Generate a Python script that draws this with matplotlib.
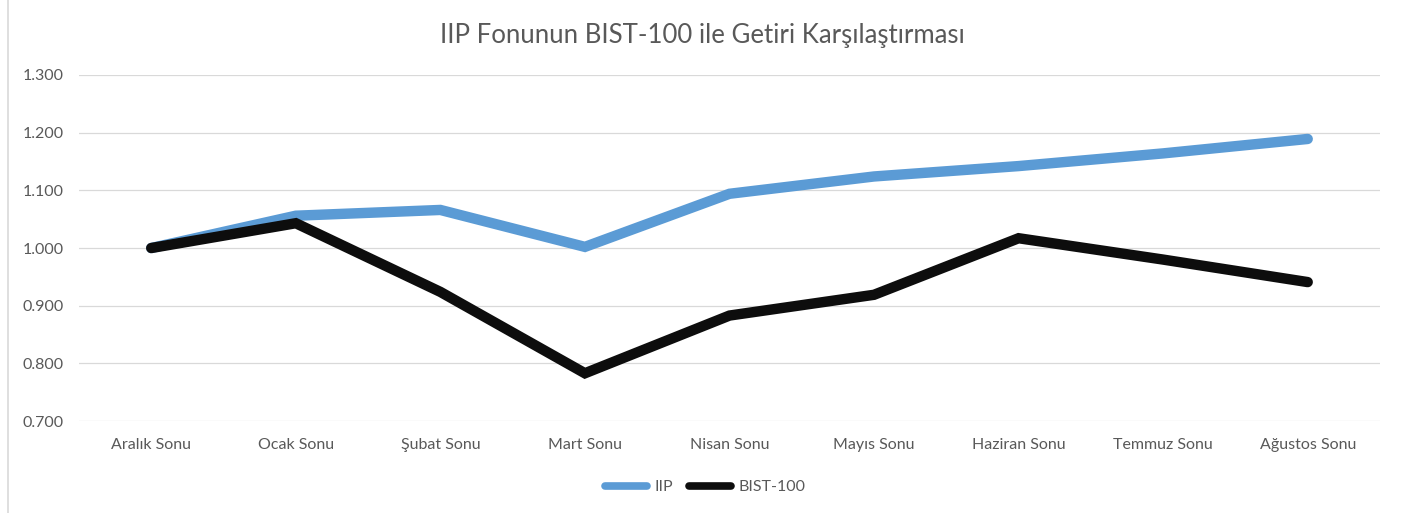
import matplotlib
matplotlib.use("Agg")
import matplotlib.pyplot as plt
from matplotlib.patches import Rectangle

# ── Data ───────────────────────────────────────────────────────────────────
MONTHS = ["Aralık Sonu", "Ocak Sonu", "Şubat Sonu", "Mart Sonu", "Nisan Sonu",
          "Mayıs Sonu", "Haziran Sonu", "Temmuz Sonu", "Ağustos Sonu"]
IIP    = [1.000, 1.056, 1.066, 1.002, 1.094, 1.124, 1.142, 1.164, 1.189]
BIST   = [1.000, 1.043, 0.924, 0.783, 0.883, 0.919, 1.017, 0.980, 0.941]
YTICKS = [0.7, 0.8, 0.9, 1.0, 1.1, 1.2, 1.3]

TITLE = "IIP Fonunun BIST-100 ile Getiri Karşılaştırması"
TXT   = "#595959"

plt.rcParams["font.family"] = ["Lato", "DejaVu Sans"]

fig = plt.figure(figsize=(14.05, 5.13), dpi=100)
ax = fig.add_axes([0.0562, 0.179, 0.926, 0.675])

x = range(len(MONTHS))
ax.plot(x, IIP, color="#5B9BD5", lw=7.5, solid_capstyle="round",
        solid_joinstyle="miter", label="IIP")
ax.plot(x, BIST, color="#0D0D0D", lw=7.5, solid_capstyle="round",
        solid_joinstyle="miter", label="BIST-100")

ax.set_xlim(-0.5, len(MONTHS) - 0.5)
ax.set_ylim(0.7, 1.3)
ax.set_yticks(YTICKS)
ax.set_yticklabels([f"{v:.3f}" for v in YTICKS])
ax.set_xticks(list(x))
ax.set_xticklabels(MONTHS)
ax.tick_params(length=0, colors=TXT, labelsize=11.5)
ax.tick_params(axis="x", pad=12)
ax.tick_params(axis="y", pad=11)
ax.grid(axis="y", color="#D9D9D9", lw=0.9)
ax.set_axisbelow(True)
for s in ax.spines.values():
    s.set_visible(False)

fig.text(0.5, 0.93, TITLE, ha="center", va="center", fontsize=18.5, color=TXT)

leg = fig.legend(loc="center", bbox_to_anchor=(0.502, 0.05), ncol=2, frameon=False,
                 fontsize=11.5, handlelength=2.6, handletextpad=0.5,
                 columnspacing=1.0)
for t in leg.get_texts():
    t.set_color(TXT)
for h in leg.get_lines():
    h.set_linewidth(5.5)

# outer chart frame
fig.patches.append(Rectangle((0.006, -0.01), 1.2, 1.2, transform=fig.transFigure,
                             fill=False, edgecolor="#D9D9D9", lw=1.2))

fig.savefig("out.png", dpi=100)
